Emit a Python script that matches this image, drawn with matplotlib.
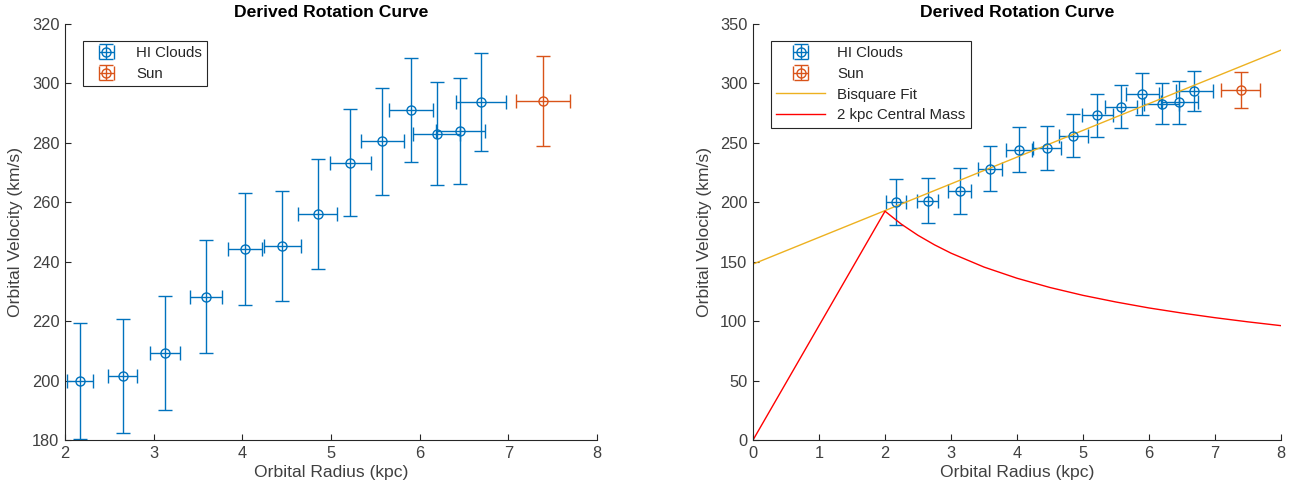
import numpy as np
import matplotlib.pyplot as plt

plt.rcParams['font.family'] = ['Liberation Sans', 'DejaVu Sans']

# HI cloud data
r_hi = [2.17, 2.65, 3.13, 3.59, 4.03, 4.45, 4.85, 5.22, 5.58, 5.90, 6.19, 6.46, 6.69]
v_hi = [200.0, 201.5, 209.4, 228.2, 244.2, 245.4, 256.1, 273.3, 280.5, 291.0, 283.1, 284.0, 293.8]
r_err = [0.15, 0.16, 0.17, 0.18, 0.19, 0.21, 0.22, 0.23, 0.24, 0.25, 0.26, 0.28, 0.28]
v_err = [19.5, 19.3, 19.2, 19.0, 18.8, 18.5, 18.4, 18.0, 17.9, 17.6, 17.3, 17.9, 16.6]

# Sun
r_sun = [7.39]
v_sun = [294.2]
r_sun_err = [0.30]
v_sun_err = [15.2]

# bisquare fit (end points)
fit_r = [0, 8]
fit_v = [148, 328]

cm_r = [0, 2.0, 2.25, 2.5, 2.75, 3.0, 3.5, 4.0, 4.5, 5.0, 5.5, 6.0, 6.5, 7.0, 7.5, 8.0]
cm_v = [0, 192.5, 181.5, 172.2, 164.2, 157.2, 145.5, 136.1, 128.3, 121.7, 116.1, 111.1, 106.8, 102.9, 99.4, 96.2]

blue = '#0072BD'
orange = '#D95319'
yellow = '#EDB120'
txt = '#262626'
gray = '#404040'


def style(ax):
    ax.spines['top'].set_visible(False)
    ax.spines['right'].set_visible(False)
    for s in ['left', 'bottom']:
        ax.spines[s].set_color(txt)
        ax.spines[s].set_linewidth(0.8)
    ax.tick_params(direction='in', colors=txt, labelcolor=gray, labelsize=11.8,
                   length=4, width=0.8, pad=4)
    ax.set_xlabel('Orbital Radius (kpc)', fontsize=12.6, color=gray, labelpad=3)
    ax.set_ylabel('Orbital Velocity (km/s)', fontsize=12.6, color=gray, labelpad=6)
    ax.set_title('Derived Rotation Curve', fontsize=12.6, fontweight='bold', color='black', pad=5)


def draw_points(ax):
    h1 = ax.errorbar(r_hi, v_hi, xerr=r_err, yerr=v_err, fmt='o', mfc='none', mec=blue,
                     color=blue, ms=6.5, capsize=5, elinewidth=1.0, capthick=1.0,
                     mew=1.0, label='HI Clouds')
    h2 = ax.errorbar(r_sun, v_sun, xerr=r_sun_err, yerr=v_sun_err, fmt='o', mfc='none', mec=orange,
                     color=orange, ms=6.5, capsize=5, elinewidth=1.0, capthick=1.0,
                     mew=1.0, label='Sun')
    return [h1, h2]


def make_legend(ax, handles, hl):
    leg = ax.legend(handles=handles, loc='upper left', bbox_to_anchor=(0.025, 0.97),
                    fontsize=10.8, fancybox=False, framealpha=1, edgecolor=txt,
                    borderpad=0.35, handlelength=hl, handletextpad=0.8, labelspacing=0.45,
                    borderaxespad=0.3)
    leg.get_frame().set_linewidth(0.8)
    for t in leg.get_texts():
        t.set_color(txt)


fig = plt.figure(figsize=(12.99, 4.97), dpi=100)
ax1 = fig.add_axes([0.050, 0.1147, 0.4096, 0.837])
ax2 = fig.add_axes([0.5797, 0.1147, 0.4064, 0.837])

# left panel
hs = draw_points(ax1)
ax1.set_xlim(2, 8)
ax1.set_ylim(180, 320)
ax1.set_xticks(np.arange(2, 9, 1))
ax1.set_yticks(np.arange(180, 321, 20))
style(ax1)
make_legend(ax1, hs, 2.4)

# right panel
hs = draw_points(ax2)
l1, = ax2.plot(fit_r, fit_v, color=yellow, lw=1.0, label='Bisquare Fit')
l2, = ax2.plot(cm_r, cm_v, color='#FF0000', lw=1.0, label='2 kpc Central Mass')
ax2.set_xlim(0, 8)
ax2.set_ylim(0, 350)
ax2.set_xticks(np.arange(0, 9, 1))
ax2.set_yticks(np.arange(0, 351, 50))
style(ax2)
make_legend(ax2, hs + [l1, l2], 3.3)

plt.savefig('out.png', dpi=100)
